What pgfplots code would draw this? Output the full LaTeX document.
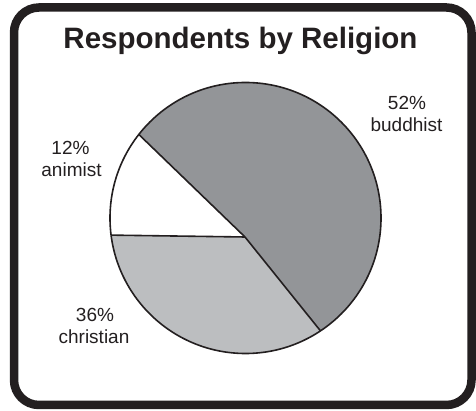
\documentclass[border=0pt]{standalone}
\usepackage{fontspec}
\setmainfont{Liberation Sans}
\usepackage{pgfplots}
\usepackage{pgfplotstable}
\pgfplotsset{compat=1.18}
\definecolor{ink}{HTML}{231F20}
\definecolor{darkslice}{HTML}{939598}
\definecolor{lightslice}{HTML}{BCBEC0}

\pgfplotstableread{
label share
buddhist 52
christian 36
animist 12
}\piedata

\pgfplotstablegetelem{0}{share}\of\piedata \let\sA\pgfplotsretval
\pgfplotstablegetelem{1}{share}\of\piedata \let\sB\pgfplotsretval
\pgfplotstablegetelem{2}{share}\of\piedata \let\sC\pgfplotsretval
\pgfmathsetmacro\aA{136}
\pgfmathsetmacro\aB{\aA-\sA*3.6}
\pgfmathsetmacro\aC{\aB-\sB*3.6}
\pgfmathsetmacro\aD{\aC-\sC*3.6}

\begin{document}
\begin{tikzpicture}
\begin{axis}[name=ax, x=1pt, y=1pt, xmin=0, xmax=476, ymin=0, ymax=411,
  hide axis, clip=false]
  % frame
  \draw[ink, line width=8.5pt, rounded corners=25pt] (14,6) rectangle (471.5,403.5);
  % pie
  \begin{scope}
    \clip (245.5,193) circle[radius=135.5pt];
    \fill[darkslice] (245,174) -- ++(\aA:400pt) arc[start angle=\aA, end angle=\aB, radius=400pt] -- cycle;
    \fill[lightslice] (245,174) -- ++(\aB:400pt) arc[start angle=\aB, end angle=\aC, radius=400pt] -- cycle;
    \fill[white] (245,174) -- ++(\aC:400pt) arc[start angle=\aC, end angle=\aD, radius=400pt] -- cycle;
    \draw[ink, line width=1.6pt] (245,174) -- ++(\aA:400pt);
    \draw[ink, line width=1.6pt] (245,174) -- ++(\aB:400pt);
    \draw[ink, line width=1.6pt] (245,174) -- ++(\aC:400pt);
  \end{scope}
  \draw[ink, line width=1.6pt] (245.5,193) circle[radius=135.5pt];
  % title
  \node[font=\bfseries\fontsize{29.5}{34}\selectfont, text=ink, anchor=base] at (240.5,362.5) {Respondents by Religion};
  % labels
  \node[font=\fontsize{19}{22}\selectfont, text=ink, anchor=base] at (407,301) {\sA\%};
  \node[font=\fontsize{19}{22}\selectfont, text=ink, anchor=base] at (406.5,279) {buddhist};
  \node[font=\fontsize{19}{22}\selectfont, text=ink, anchor=base] at (70.5,256) {\sC\%};
  \node[font=\fontsize{19}{22}\selectfont, text=ink, anchor=base] at (71.5,234) {animist};
  \node[font=\fontsize{19}{22}\selectfont, text=ink, anchor=base] at (95,89) {\sB\%};
  \node[font=\fontsize{19}{22}\selectfont, text=ink, anchor=base] at (94,67) {christian};
\end{axis}
\pgfresetboundingbox
\path (ax.south west) rectangle (ax.north east);
\end{tikzpicture}
\end{document}
